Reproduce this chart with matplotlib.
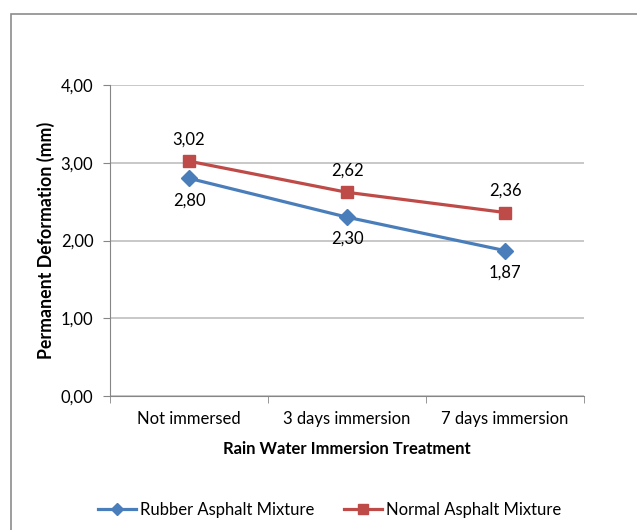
import matplotlib
matplotlib.use("Agg")
import matplotlib.pyplot as plt
from matplotlib.patches import Rectangle

categories = ["Not immersed", "3 days immersion", "7 days immersion"]
rubber = [2.80, 2.30, 1.87]
normal = [3.02, 2.62, 2.36]
yticks = [0, 1, 2, 3, 4]

plt.rcParams['font.family'] = ['Lato', 'DejaVu Sans']

blue = '#4A7EBB'
red = '#BE4B48'

fig = plt.figure(figsize=(6.37, 5.30), dpi=100)
# outer chart border (runs off the right and bottom edge like the source crop)
fig.patches.append(Rectangle((11/637, -0.05), 1.0, 1 - 14/530 + 0.05, transform=fig.transFigure,
                             fill=False, edgecolor='#8c8c8c', linewidth=1.2))

ax = fig.add_axes([110/637, 1 - 396/530, 474/637, 311/530])
x = list(range(len(categories)))
ax.plot(x, rubber, color=blue, lw=2.3, marker='D', markersize=8, label='Rubber Asphalt Mixture', zorder=3)
ax.plot(x, normal, color=red, lw=2.3, marker='s', markersize=9, label='Normal Asphalt Mixture', zorder=3)

for xi, v in zip(x, rubber):
    ax.annotate(f"{v:.2f}".replace('.', ','), (xi, v), xytext=(0, -10), textcoords='offset points',
                ha='center', va='top', fontsize=12)
for xi, v in zip(x, normal):
    ax.annotate(f"{v:.2f}".replace('.', ','), (xi, v), xytext=(0, 10), textcoords='offset points',
                ha='center', va='bottom', fontsize=12)

ax.set_xlim(-0.5, 2.5)
ax.set_ylim(0, 4)
ax.set_yticks(yticks)
ax.set_yticklabels([f"{t:.2f}".replace('.', ',') for t in yticks], fontsize=12)
ax.set_xticks(x)
ax.set_xticklabels(categories, fontsize=12)
ax.set_xticks([-0.5, 0.5, 1.5, 2.5], minor=True)
ax.tick_params(axis='x', which='major', length=0, pad=11)
ax.tick_params(axis='x', which='minor', length=5, color='#868686')
ax.tick_params(axis='y', length=5, color='#868686', pad=7)
ax.grid(axis='y', color='#bfbfbf', lw=1.2)
ax.set_axisbelow(True)
for s in ['top', 'right']:
    ax.spines[s].set_visible(False)
ax.spines['left'].set_color('#868686')
ax.spines['bottom'].set_color('#868686')

ax.set_xlabel("Rain Water Immersion Treatment", fontsize=12, fontweight='bold', labelpad=10)
ax.set_ylabel("Permanent Deformation (mm)", fontsize=12.8, fontweight='bold', labelpad=4)

fig.legend(loc='center', bbox_to_anchor=(0.517, 1 - 510/530), ncol=2, frameon=False, fontsize=12,
           handlelength=2.3, columnspacing=1.8, handletextpad=0.2, markerscale=0.8)

fig.savefig("out.png", dpi=100)
